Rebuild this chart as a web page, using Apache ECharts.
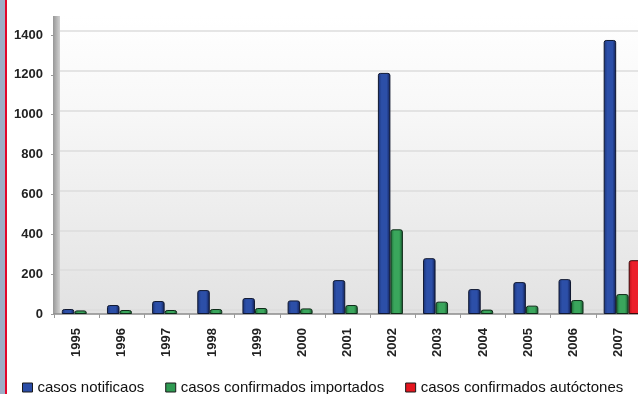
<!DOCTYPE html>
<html>
<head>
<meta charset="utf-8">
<script src="https://cdn.jsdelivr.net/npm/echarts@6/dist/echarts.min.js"></script>
<style>
  html, body { margin: 0; padding: 0; background: #ffffff; }
  #chart { width: 638px; height: 394px; }
</style>
</head>
<body>
<div id="chart"></div>
<script>
// Years on the category axis
const years = ['1995', '1996', '1997', '1998', '1999', '2000', '2001',
               '2002', '2003', '2004', '2005', '2006', '2007'];

// Reported cases per year
const notificados = [25, 45, 65, 120, 80, 68, 170, 1210, 280, 125, 160, 175, 1375];
// Confirmed imported cases
const importados = [18, 20, 20, 25, 30, 28, 45, 425, 62, 22, 42, 70, 100];
// Confirmed autochthonous cases
const autoctones = [0, 0, 0, 0, 0, 0, 0, 0, 0, 0, 0, 0, 270];

// Value axis range and step
const yMin = 0;
const yMax = 1400;
const yStep = 200;

const seriesNames = ['casos notificaos', 'casos confirmados importados', 'casos confirmados autóctones'];

const FONT = '"Liberation Sans", Arial, sans-serif';

function barFill(edge, mid, dark) {
  return {
    type: 'linear', x: 0, y: 0, x2: 1, y2: 0,
    colorStops: [
      { offset: 0, color: edge },
      { offset: 0.3, color: mid },
      { offset: 0.7, color: mid },
      { offset: 1, color: dark }
    ]
  };
}

const chart = echarts.init(document.getElementById('chart'), null, { renderer: 'canvas' });

const option = {
  backgroundColor: '#ffffff',
  animation: false,
  graphic: [
    // page edge strips
    { type: 'rect', z: -20, shape: { x: 0, y: 0, width: 5, height: 394 }, style: { fill: '#9eadc6' } },
    { type: 'rect', z: -20, shape: { x: 5, y: 0, width: 2, height: 394 }, style: { fill: '#e3062c' } },
    // back wall
    {
      type: 'rect', z: -20,
      shape: { x: 60, y: 16, width: 580, height: 298 },
      style: {
        fill: {
          type: 'linear', x: 0, y: 0, x2: 0, y2: 1,
          colorStops: [
            { offset: 0, color: '#ffffff' },
            { offset: 0.3, color: '#f8f8f8' },
            { offset: 1, color: '#e2e2e2' }
          ]
        }
      }
    },
    // side wall
    {
      type: 'rect', z: -19,
      shape: { x: 53, y: 16, width: 7, height: 298 },
      style: {
        fill: {
          type: 'linear', x: 0, y: 0, x2: 1, y2: 0,
          colorStops: [
            { offset: 0, color: '#979797' },
            { offset: 1, color: '#d2d2d2' }
          ]
        }
      }
    }
  ],
  legend: {
    left: 22,
    top: 379,
    padding: 0,
    itemGap: 21,
    itemWidth: 10,
    itemHeight: 9,
    icon: 'rect',
    data: seriesNames.map((n, i) => ({
      name: n,
      itemStyle: {
        color: ['#2a4ca6', '#2f9a52', '#e4161f'][i],
        borderColor: '#1a1a1a',
        borderWidth: 1
      }
    })),
    textStyle: { fontFamily: FONT, fontSize: 15, color: '#111111', lineHeight: 17 }
  },
  grid: [
    // axes, ticks and labels
    { left: 54, right: -3, top: 35, bottom: 80, outerBoundsMode: 'none' },
    // bars
    { left: 58, right: -7, top: 35, bottom: 80, outerBoundsMode: 'none' },
    // gridlines on the back wall
    { left: 60, right: -3, top: 31, bottom: 84, outerBoundsMode: 'none' }
  ],
  xAxis: [
    {
      gridIndex: 0, type: 'category', data: years,
      axisLine: { show: true, lineStyle: { color: '#8c8c8c', width: 1.5 } },
      axisTick: { show: true, length: 4, lineStyle: { color: '#9a9a9a' } },
      axisLabel: {
        rotate: 90, margin: 14, interval: 0,
        fontFamily: FONT, fontSize: 13, fontWeight: 'bold', color: '#222222'
      },
      splitLine: { show: false }
    },
    {
      gridIndex: 1, type: 'category', data: years, show: false
    },
    {
      gridIndex: 2, type: 'category', data: years, show: false
    }
  ],
  yAxis: [
    {
      gridIndex: 0, type: 'value', min: yMin, max: yMax, interval: yStep,
      axisLine: { show: false },
      axisTick: { show: true, length: 3, lineStyle: { color: '#9a9a9a' } },
      axisLabel: {
        margin: 11,
        formatter: v => String(v),
        fontFamily: FONT, fontSize: 13, fontWeight: 'bold', color: '#222222'
      },
      splitLine: { show: false }
    },
    {
      gridIndex: 1, type: 'value', min: yMin, max: yMax, interval: yStep, show: false,
      splitLine: { show: false }
    },
    {
      gridIndex: 2, type: 'value', min: yMin, max: yMax, interval: yStep,
      axisLine: { show: false }, axisTick: { show: false }, axisLabel: { show: false },
      splitLine: { show: true, lineStyle: { color: '#dcdcdc', width: 1.5 } }
    }
  ],
  series: [
    {
      name: seriesNames[0], type: 'bar', xAxisIndex: 1, yAxisIndex: 1,
      data: notificados, barWidth: 12.5, barGap: '0%',
      itemStyle: {
        color: barFill('#1b3378', '#2c4fa8', '#0f1d52'),
        borderColor: '#101830', borderWidth: 1, borderRadius: [2, 2, 0, 0]
      }
    },
    {
      name: seriesNames[1], type: 'bar', xAxisIndex: 1, yAxisIndex: 1,
      data: importados, barWidth: 12.5, barGap: '0%',
      itemStyle: {
        color: barFill('#1c6a36', '#3aa65c', '#13522a'),
        borderColor: '#0f2a18', borderWidth: 1, borderRadius: [2, 2, 0, 0]
      }
    },
    {
      name: seriesNames[2], type: 'bar', xAxisIndex: 1, yAxisIndex: 1,
      data: autoctones.map(v => (v > 0 ? v : null)), barWidth: 12.5, barGap: '0%',
      itemStyle: {
        color: barFill('#b8121b', '#ec1f2a', '#a80f17'),
        borderColor: '#3a0a0a', borderWidth: 1, borderRadius: [2, 2, 0, 0]
      }
    }
  ]
};

chart.setOption(option);
</script>
</body>
</html>
